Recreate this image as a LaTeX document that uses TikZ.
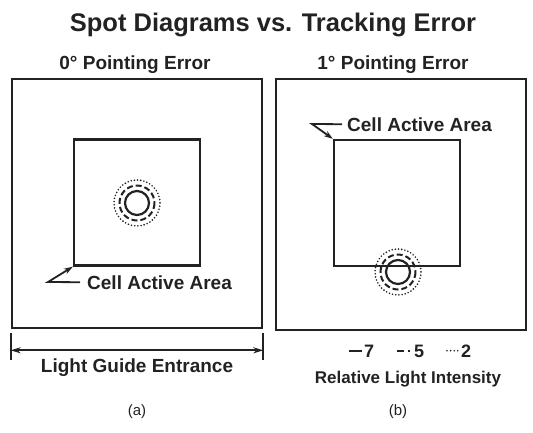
\documentclass[tikz,border=0pt]{standalone}
\usepackage{fontspec}
\setmainfont{Liberation Sans}
\usetikzlibrary{arrows.meta,positioning,calc}
\definecolor{ink}{HTML}{222222}

\begin{document}
\begin{tikzpicture}[x=1pt, y=-1pt, >=Latex,
  frame/.style={draw=ink, line width=2.6pt, inner sep=0pt, minimum width=250pt},
  cell/.style={draw=ink, line width=2.4pt, inner sep=0pt, minimum size=126pt},
  head/.style={font=\fontsize{19}{22}\selectfont\bfseries, text=ink, inner sep=0pt},
  lbl/.style={font=\fontsize{19}{22}\selectfont\bfseries, text=ink, inner sep=0pt},
  subcap/.style={font=\fontsize{15}{17}\selectfont, text=ink, inner sep=0pt},
  lead/.style={-{Stealth[length=9pt,width=6pt]}, line width=1.8pt, draw=ink},
  dim/.style={{Stealth[length=10pt,width=6pt]}-{Stealth[length=10pt,width=6pt]}, line width=1.8pt, draw=ink},
  r7/.style={draw=ink, line width=2.2pt},
  r5/.style={draw=ink, line width=2pt, dash pattern=on 6pt off 3pt},
  r2/.style={draw=ink, line width=1.8pt, line cap=round, dash pattern=on 0pt off 3.2pt}]
\useasboundingbox (0,0) rectangle (533,432);

% headings
\node[font=\fontsize{25.5}{28}\selectfont\bfseries, text=ink, inner sep=0pt, anchor=base] (title) at (273,31) {Spot Diagrams vs. Tracking Error};
\node[head, anchor=base] (errA) at (135,69) {0° Pointing Error};
\node[head, anchor=base] (errB) at (393,69) {1° Pointing Error};

% (a) 0 degree
\node[frame, minimum height=249pt] (frameA) at (137,203.5) {};
\node[cell] (cellA) at (137,202.5) {};
\coordinate (spotA) at (137,203);
\foreach \r/\s in {12/r7, 17.5/r5, 23/r2} \draw[\s] (spotA) circle[radius=\r];
\node[lbl, anchor=base west] (caA) at (87,289) {Cell Active Area};
\coordinate (knA) at (48,282);
\draw[lead] ([xshift=-7pt]caA.west) -- (knA) -- (cellA.south west);

% light guide width
\coordinate (dimL) at ([yshift=-21pt]frameA.south west);
\coordinate (dimR) at ([yshift=-21pt]frameA.south east);
\draw[ink, line width=1.8pt] ([yshift=-4pt]frameA.south west) -- ([yshift=-31pt]frameA.south west);
\draw[ink, line width=1.8pt] ([yshift=-4pt]frameA.south east) -- ([yshift=-31pt]frameA.south east);
\draw[dim] (dimL) -- (dimR);
\node[lbl, anchor=base] (lge) at (137,372) {Light Guide Entrance};

% (b) 1 degree
\node[frame, minimum height=251pt] (frameB) at (401,204.5) {};
\node[cell] (cellB) at (397,203) {};
\coordinate (spotB) at (398,272);
\foreach \r/\s in {12/r7, 17.5/r5, 23/r2} \draw[\s] (spotB) circle[radius=\r];
\node[lbl, anchor=base west] (caB) at (347,131) {Cell Active Area};
\coordinate (knB) at (312,124);
\draw[lead] ([xshift=-5pt]caB.west) -- (knB) -- (cellB.north west);

% legend
\node[lbl, font=\fontsize{18}{21}\selectfont\bfseries, anchor=base west] (n7) at (364,357) {7};
\node[lbl, font=\fontsize{18}{21}\selectfont\bfseries, anchor=base west] (n5) at (414,357) {5};
\node[lbl, font=\fontsize{18}{21}\selectfont\bfseries, anchor=base west] (n2) at (461,357) {2};
\draw[r7] ([xshift=-15pt]n7.west) -- ([xshift=-2pt]n7.west);
\draw[r5, dash pattern=on 7pt off 4pt on 2pt off 9pt] ([xshift=-17pt]n5.west) -- ([xshift=-2pt]n5.west);
\draw[r2, dash pattern=on 0pt off 3.6pt] ([xshift=-14pt]n2.west) -- ([xshift=-2pt]n2.west);
\node[lbl, font=\fontsize{17}{20}\selectfont\bfseries, anchor=base] (rli) at (408,383) {Relative Light Intensity};

% captions
\node[subcap] (capA) at (137,412) {(a)};
\node[subcap] (capB) at (398,412) {(b)};
\end{tikzpicture}
\end{document}
